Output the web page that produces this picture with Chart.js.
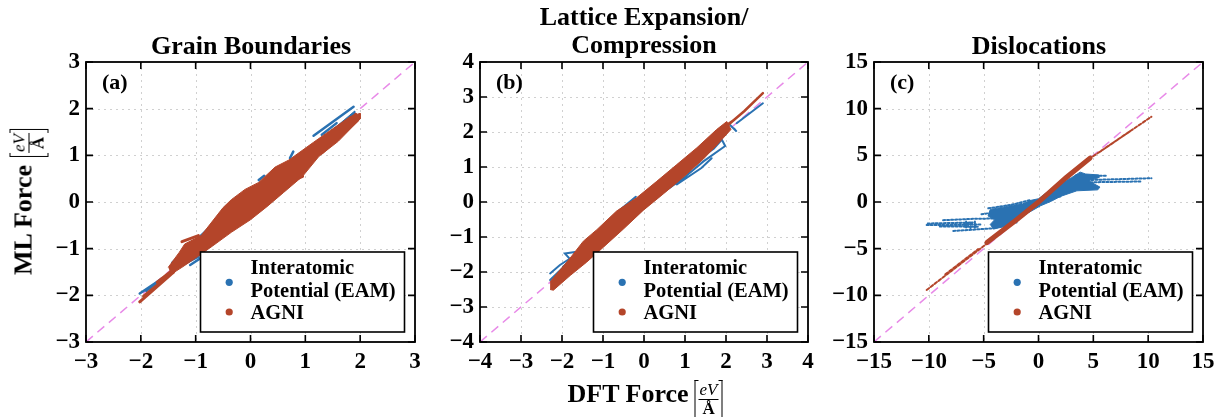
<!DOCTYPE html>
<html>
<head>
<meta charset="utf-8">
<script src="https://cdn.jsdelivr.net/npm/chart.js@4.4.1/dist/chart.umd.min.js"></script>
<style>
  body { margin: 0; background: #fff; }
  #wrap { position: relative; width: 1217px; height: 417px; overflow: hidden;
          font-family: "Liberation Serif", serif; font-weight: bold; color: #000; }
  canvas { position: absolute; top: 0; }
  .title { position: absolute; font-size: 26px; line-height: 28px; text-align: center;
           white-space: pre; transform: translateX(-50%); }
  .axlabel { position: absolute; display: flex; align-items: flex-start; white-space: nowrap;
             font-size: 26px; line-height: 28px; }
  .br { position: relative; display: inline-flex; flex-direction: column; align-items: center;
        padding: 1px 4px; font-size: 17px; line-height: 18px; }
  .br::before, .br::after { content: ''; position: absolute; top: 0; bottom: 0; width: 3px;
        border: 1px solid #000; }
  .br::before { left: 0; border-right: none; }
  .br::after { right: 0; border-left: none; }
  .br i { font-weight: normal; border-bottom: 1px solid #000; padding: 0 1px; }
</style>
</head>
<body>
<div id="wrap">
  <canvas id="pa" width="425" height="417" style="left:0px"></canvas>
  <canvas id="pb" width="398" height="417" style="left:420px"></canvas>
  <canvas id="pc" width="403" height="417" style="left:814px"></canvas>
  <div class="title" id="ta" style="left:251px; top:32px"></div>
  <div class="title" id="tb" style="left:644px; top:3px"></div>
  <div class="title" id="tc" style="left:1039px; top:32px"></div>
  <div class="axlabel" id="xlab" style="left:645px; top:380px; transform:translateX(-50%)">
    <span>DFT Force</span><span class="br" style="margin-left:6px"><i>eV</i><b>Å</b></span>
  </div>
  <div class="axlabel" id="ylab" style="left:29px; top:202px; transform:translate(-50%,-50%) rotate(-90deg)">
    <span>ML Force</span><span class="br" style="margin-left:8px"><i>eV</i><b>Å</b></span>
  </div>
</div>
<script>
// Names, colours, titles
const seriesNames = ['Interatomic\nPotential (EAM)', 'AGNI'];
const seriesColors = ['#2a72b2', '#b4452a'];
const panelTitles = ['Grain Boundaries', 'Lattice Expansion/\nCompression', 'Dislocations'];
const panelTags = ['(a)', '(b)', '(c)'];
const axisLimits = [3, 4, 15];
const tickSteps = [1, 1, 5];

// (a) grain boundaries: outline of dense clouds + loose trails, eV/A
const gbEamCloud = [[-1.45,-1.3],[-0.5,-0.25],[0.5,0.6],[1.5,1.55],[1.9,1.95],
  [1.9,1.8],[1.0,0.7],[0,-0.3],[-1.0,-1.2],[-1.45,-1.5]];
const gbEamTrails = [
  [[-2.02,-1.96],[-1.47,-1.53]],
  [[-1.9,-1.9],[-1.55,-1.6]],
  [[-1.1,-1.35],[-0.8,-1.12]],
  [[-1.2,-1.32],[-0.95,-1.17]],
  [[1.15,1.42],[1.88,2.04]],
  [[1.3,1.44],[1.57,1.69]],
  [[0.72,0.94],[0.78,1.08]],
  [[0.15,0.47],[0.25,0.56]]
];
const gbAgniCloud = [[-1.5,-1.4],[-1.3,-1.08],[-1.2,-0.9],[-0.9,-0.72],[-0.5,-0.12],[-0.35,0.05],
  [-0.1,0.27],[0.15,0.42],[0.45,0.75],[0.7,0.9],[1.15,1.28],[1.5,1.57],[1.82,1.83],[2.0,1.9],
  [2.0,1.78],[1.6,1.3],[1.25,0.98],[0.95,0.55],[0.6,0.2],[0.3,-0.1],[0,-0.38],[-0.35,-0.65],
  [-0.7,-0.95],[-1.0,-1.2],[-1.25,-1.4],[-1.45,-1.55]];
const gbAgniTrails = [
  [[-2.02,-2.14],[-1.45,-1.55]],
  [[-1.95,-2.02],[-1.4,-1.5]],
  [[-1.7,-1.72],[-1.3,-1.35]],
  [[-1.25,-0.85],[-0.95,-0.72]],
  [[1.3,1.05],[1.95,1.75]],
  [[1.5,1.45],[1.92,1.88]],
  [[0.75,0.45],[0.95,0.55]]
];

// (b) lattice expansion / compression
const lcEamCloud = [[-2.0,-1.85],[-1.0,-0.8],[0,0.2],[1.0,1.15],[2.0,2.15],
  [2.05,2.0],[1.0,0.78],[0,-0.2],[-1.0,-1.2],[-2.0,-2.25]];
const lcEamTrails = [
  [[-2.29,-2.23],[-2.0,-1.9],[-1.75,-1.7],[-1.93,-1.47],[-1.64,-1.42],[-1.4,-1.35]],
  [[-2.29,-2.04],[-2.05,-1.8],[-1.85,-1.65]],
  [[-2.2,-2.35],[-1.9,-2.05]],
  [[-1.2,-0.88],[-0.91,-0.75],[-0.6,-0.4]],
  [[-0.59,-0.23],[-0.2,0.15]],
  [[0.5,0.3],[0.96,0.68],[1.45,1.16],[1.98,1.6],[1.9,1.78],[1.7,1.52],[1.45,1.32]],
  [[0.8,0.5],[1.4,0.97],[1.65,1.25]],
  [[2.1,2.2],[2.26,2.01],[2.2,2.1]],
  [[2.26,2.25],[2.9,2.82]]
];
const lcAgniCloud = [[-2.29,-2.28],[-1.8,-1.6],[-1.48,-1.12],[-1.15,-0.79],[-0.67,-0.26],[-0.18,0.12],
  [0.31,0.59],[0.8,1.07],[1.29,1.55],[1.77,2.07],[2.02,2.3],[2.12,2.07],[1.77,1.62],[1.45,1.23],
  [0.96,0.71],[0.47,0.23],[-0.02,-0.24],[-0.5,-0.77],[-0.99,-1.29],[-1.4,-1.72],[-1.8,-2.1],
  [-2.21,-2.52],[-2.29,-2.5]];
const lcAgniTrails = [
  [[2.0,2.15],[2.45,2.6],[2.9,3.11]],
  [[1.9,2.1],[2.2,2.35]]
];

// (c) dislocations
const dlEamCloud = [[-0.8,0.15],[0,0.35],[1.5,1.7],[3.0,2.6],[3.8,3.2],[4.3,3.0],[5.5,2.9],[5.5,2.6],
  [4.5,2.3],[5.6,1.6],[5.4,1.3],[3.5,1.2],[2.0,0.6],[1.2,0.1],[0.2,-0.4],[-1.0,-1.2],[-2.0,-2.0],
  [-3.0,-2.6],[-4.1,-2.9],[-4.4,-2.4],[-4.0,-1.9],[-4.6,-1.5],[-4.4,-0.8],[-3.0,-0.5],[-1.5,-0.15]];
const dlEamTrails = [
  [[-10.2,-2.46],[-7.5,-2.45],[-5.3,-2.4]],
  [[-10.1,-2.3],[-6.0,-2.2]],
  [[-9.0,-2.62],[-5.5,-2.65]],
  [[-8.7,-1.95],[-5.9,-1.8],[-2.9,-1.75]],
  [[-7.77,-3.1],[-4.12,-2.82],[-2.0,-2.2]],
  [[-4.58,-0.68],[-2.5,-0.3],[-0.78,0.2]],
  [[-5.2,-1.3],[-2.5,-0.9]],
  [[-6.6,-2.1],[-6.6,-2.9]],
  [[-6.2,-2.2],[-6.2,-2.9]],
  [[-5.8,-2.1],[-5.8,-2.8]],
  [[3.0,2.3],[10.3,2.55]],
  [[4.0,2.1],[9.3,2.2]],
  [[3.4,2.85],[6.3,2.8]],
  [[2.0,1.2],[5.4,1.62]],
  [[0.4,0.2],[2.0,0.6]]
];
const dlAgniCore = [[-4.7,-4.35],[-2,-1.9],[0,0],[2.5,2.6],[4.7,4.7]];
const dlAgniTrails = [
  [[-10.2,-9.43],[-4.7,-4.45]],
  [[-8.5,-7.75],[-5.5,-5.05]],
  [[4.6,4.6],[10.3,9.14]],
  [[5.5,5.3],[8.5,7.7]]
];

const BLUE = seriesColors[0], RED = seriesColors[1];

function pts(list){ return list.map(p => ({x: p[0], y: p[1]})); }
// polylines joined into one dataset, broken by null points
function trails(list){
  const out = [];
  list.forEach(tr => {
    tr.forEach(p => out.push({x: p[0], y: p[1]}));
    out.push({x: tr[tr.length-1][0], y: null});
  });
  return out;
}
function cloudSet(list, color, order){
  return {data: pts(list), showLine: true, fill: 'shape', backgroundColor: color, borderColor: color,
    borderWidth: 1, pointRadius: 0, order};
}
function trailSet(list, color, width, order, dash){
  return {data: trails(list), showLine: true, fill: false, borderColor: color, borderWidth: width,
    borderDash: dash || [], pointRadius: 0, order, borderCapStyle: 'round'};
}
function diagSet(lim){
  return {data: [{x: -lim, y: -lim}, {x: lim, y: lim}], showLine: true, borderColor: '#e88ae8',
    borderWidth: 1.5, borderDash: [9, 6], pointRadius: 0, order: 10};
}

const fmt = v => (v < 0 ? '\u2212' + Math.abs(v) : String(v));
const tickFont = {family: '"Liberation Serif", serif', size: 23, weight: 'bold'};

// frame, inward ticks, dotted grid, panel tag and legend box
const framePlugin = {
  id: 'frame',
  beforeDatasetsDraw(chart){
    const {ctx, chartArea: a, scales: {x, y}} = chart;
    ctx.save();
    ctx.strokeStyle = '#d0d0d0'; ctx.lineWidth = 1; ctx.setLineDash([2, 4]);
    x.ticks.forEach(t => {
      const px = Math.round(x.getPixelForValue(t.value)) + 0.5;
      if (px < a.left + 2 || px > a.right - 2) return;
      ctx.beginPath(); ctx.moveTo(px, a.top); ctx.lineTo(px, a.bottom); ctx.stroke();
    });
    y.ticks.forEach(t => {
      const py = Math.round(y.getPixelForValue(t.value)) + 0.5;
      if (py < a.top + 2 || py > a.bottom - 2) return;
      ctx.beginPath(); ctx.moveTo(a.left, py); ctx.lineTo(a.right, py); ctx.stroke();
    });
    ctx.restore();
  },
  afterDraw(chart, args, opts){
    const {ctx, chartArea: a, scales: {x, y}} = chart;
    ctx.save();
    ctx.strokeStyle = '#000'; ctx.lineWidth = 1.6; ctx.setLineDash([]);
    const tl = 7;
    x.ticks.forEach(t => {
      const px = x.getPixelForValue(t.value);
      ctx.beginPath(); ctx.moveTo(px, a.bottom); ctx.lineTo(px, a.bottom - tl);
      ctx.moveTo(px, a.top); ctx.lineTo(px, a.top + tl); ctx.stroke();
    });
    y.ticks.forEach(t => {
      const py = y.getPixelForValue(t.value);
      ctx.beginPath(); ctx.moveTo(a.left, py); ctx.lineTo(a.left + tl, py);
      ctx.moveTo(a.right, py); ctx.lineTo(a.right - tl, py); ctx.stroke();
    });
    ctx.lineWidth = 1.8;
    ctx.strokeRect(a.left, a.top, a.right - a.left, a.bottom - a.top);

    // panel tag
    ctx.fillStyle = '#000';
    ctx.font = 'bold 22px "Liberation Serif", serif';
    ctx.textBaseline = 'middle'; ctx.textAlign = 'left';
    ctx.fillText(opts.tag, a.left + 16, a.top + 21);

    // legend
    const w = 204, h = 80;
    const lx = a.right - 10.5 - w, ly = a.bottom - 10 - h;
    ctx.fillStyle = '#fff';
    ctx.fillRect(lx, ly, w, h);
    ctx.lineWidth = 1.6;
    ctx.strokeRect(lx, ly, w, h);
    ctx.font = 'bold 20.5px "Liberation Serif", serif';
    const lines = seriesNames[0].split('\n');
    ctx.fillStyle = '#000';
    ctx.fillText(lines[0], lx + 50, ly + 17);
    ctx.fillText(lines[1], lx + 50, ly + 39.5);
    ctx.fillText(seriesNames[1], lx + 50, ly + 61.5);
    [[ly + 30.3, seriesColors[0]], [ly + 60, seriesColors[1]]].forEach(([cy, c]) => {
      ctx.fillStyle = c;
      ctx.beginPath(); ctx.arc(lx + 28.7, cy, 3.6, 0, Math.PI * 2); ctx.fill();
    });
    ctx.restore();
  }
};

function makePanel(id, i, padding, datasets){
  const lim = axisLimits[i];
  const axis = (fitFn) => ({
    min: -lim, max: lim,
    ticks: {stepSize: tickSteps[i], font: tickFont, color: '#000', padding: 6, callback: fmt,
      maxRotation: 0, autoSkip: false},
    grid: {display: false, drawTicks: false},
    border: {display: false},
    afterFit: fitFn
  });
  return new Chart(document.getElementById(id), {
    type: 'scatter',
    data: {datasets},
    options: {
      responsive: false,
      animation: false,
      layout: {padding},
      plugins: {legend: {display: false}, tooltip: {enabled: false}, frame: {tag: panelTags[i]}},
      scales: {
        x: axis(s => { s.height = 40; s.paddingLeft = 0; s.paddingRight = 0; }),
        y: axis(s => { s.width = 60; s.paddingTop = 0; s.paddingBottom = 0; })
      }
    },
    plugins: [framePlugin]
  });
}

makePanel('pa', 0, {left: 26, right: 10, top: 62, bottom: 35}, [
  cloudSet(gbAgniCloud, RED, 1),
  trailSet(gbAgniTrails, RED, 3, 2),
  cloudSet(gbEamCloud, BLUE, 3),
  trailSet(gbEamTrails, BLUE, 2.5, 4),
  diagSet(axisLimits[0])
]);
makePanel('pb', 1, {left: 0, right: 10, top: 62, bottom: 35}, [
  cloudSet(lcAgniCloud, RED, 1),
  trailSet(lcAgniTrails, RED, 2.5, 2),
  cloudSet(lcEamCloud, BLUE, 3),
  trailSet(lcEamTrails, BLUE, 2, 4),
  diagSet(axisLimits[1])
]);
makePanel('pc', 2, {left: 0, right: 14, top: 62, bottom: 35}, [
  trailSet([dlAgniCore], RED, 5, 1),
  trailSet(dlAgniTrails, RED, 2, 2, [3, 2]),
  cloudSet(dlEamCloud, BLUE, 3),
  trailSet(dlEamTrails, BLUE, 2, 4, [2, 2]),
  diagSet(axisLimits[2])
]);

document.getElementById('ta').textContent = panelTitles[0];
document.getElementById('tb').textContent = panelTitles[1];
document.getElementById('tc').textContent = panelTitles[2];
</script>
</body>
</html>
